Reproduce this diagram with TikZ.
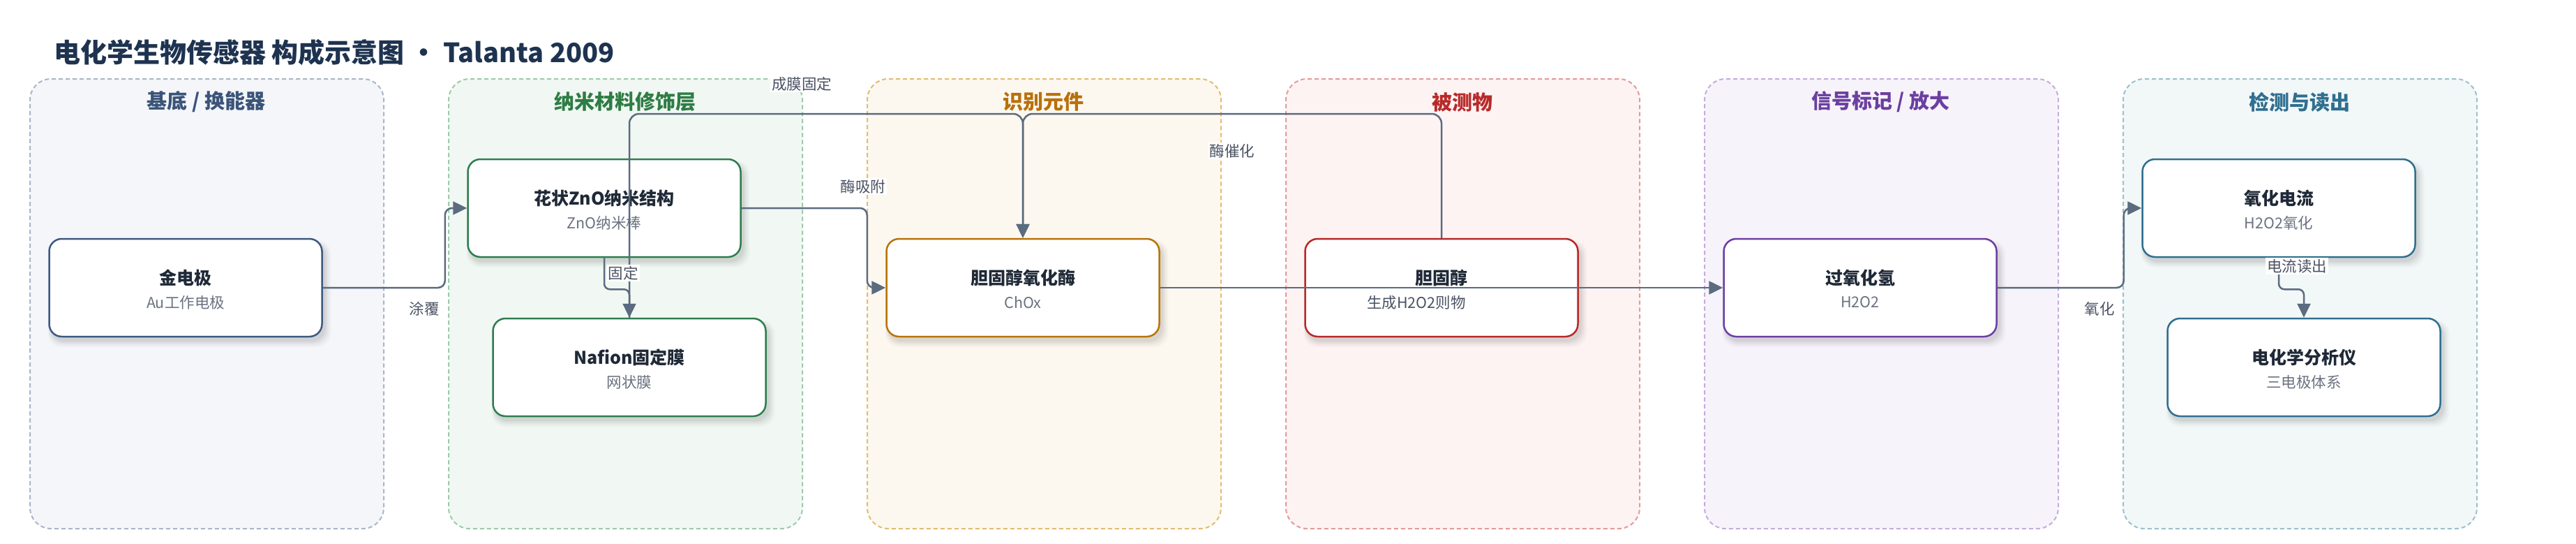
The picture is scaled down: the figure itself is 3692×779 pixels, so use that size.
\documentclass[tikz,border=0pt]{standalone}
\usepackage{fontspec}
\setmainfont{Noto Sans CJK SC}
\usetikzlibrary{arrows.meta}
\definecolor{titlec}{HTML}{1E3350}
\definecolor{linec}{HTML}{5B6B80}
\definecolor{labelc}{HTML}{4A5263}
\definecolor{ttlc}{HTML}{1F2937}
\definecolor{subc}{HTML}{6B7280}
% lane colours
\definecolor{fA}{HTML}{F4F6FA}\definecolor{dA}{HTML}{A9B6C9}\definecolor{tA}{HTML}{3B5478}\definecolor{bA}{HTML}{3D5A80}
\definecolor{fB}{HTML}{F1F8F3}\definecolor{dB}{HTML}{9DCAA9}\definecolor{tB}{HTML}{2E7D45}\definecolor{bB}{HTML}{2E7D4F}
\definecolor{fC}{HTML}{FDF8EF}\definecolor{dC}{HTML}{E3BB72}\definecolor{tC}{HTML}{B8700C}\definecolor{bC}{HTML}{B8730A}
\definecolor{fD}{HTML}{FDF3F3}\definecolor{dD}{HTML}{E49A9A}\definecolor{tD}{HTML}{B82A2A}\definecolor{bD}{HTML}{B82828}
\definecolor{fE}{HTML}{F7F3FB}\definecolor{dE}{HTML}{C6ACDC}\definecolor{tE}{HTML}{6B3FA0}\definecolor{bE}{HTML}{6B3FA0}
\definecolor{fF}{HTML}{F2F7F8}\definecolor{dF}{HTML}{9CC0CC}\definecolor{tF}{HTML}{2F6F8F}\definecolor{bF}{HTML}{2F6F8F}
\tikzset{
  lanebox/.style 2 args={draw=#2, fill=#1, line width=2pt, dash pattern=on 6pt off 4pt,
    rounded corners=30pt, minimum width=507pt, minimum height=644pt, anchor=north west, inner sep=0pt},
  lanetitle/.style={font=\fontsize{29}{32}\selectfont\bfseries, text=#1, inner sep=0pt},
  box/.style={draw=#1, fill=white, line width=2.5pt, rounded corners=18pt,
    minimum width=391pt, minimum height=140pt, inner sep=0pt},
  ttl/.style={font=\fontsize{25}{28}\selectfont\bfseries, text=ttlc, inner sep=0pt},
  sub/.style={font=\fontsize{21.5}{24}\selectfont, text=subc, inner sep=0pt},
  conn/.style={draw=linec, line width=2.5pt, -{Triangle[length=20pt,width=19pt]}},
  lbl/.style={font=\fontsize{21.5}{24}\selectfont, text=labelc, fill=white, inner sep=2pt},
}
\newcommand\mylane[6]{%
  \node[lanebox={#3}{#4}] (#1) at (#2,112) {};
  \node[lanetitle=#5] (#1-t) at (#2+253.5,146) {#6};
}
\newcommand\myshadow[2]{%
  \foreach \e/\o in {10/0.018,8/0.022,6/0.028,4/0.034,2/0.04}{
    \fill[black, opacity=\o, rounded corners=20pt] (#1-195.5+3-\e*0.5, #2-70+7-\e*0.5) rectangle (#1+195.5+3+\e, #2+70+5+\e);
  }%
}
\newcommand\mybox[6]{%
  \myshadow{#2}{#3}
  \node[box=#4] (#1) at (#2,#3) {};
  \node[ttl] (#1-t) at (#2,#3-14) {#5};
  \node[sub] (#1-s) at (#2,#3+21) {#6};
}
\begin{document}
\begin{tikzpicture}[x=1pt,y=-1pt]
\fill[white] (0,0) rectangle (3692,779);
\useasboundingbox (0,0) rectangle (3692,779);

\node[anchor=west, font=\fontsize{38}{42}\selectfont\bfseries, text=titlec, inner sep=0pt] (title) at (77,75)
  {电化学生物传感器 构成示意图 · Talanta 2009};

% lanes
\mylane{l1}{42}{fA}{dA}{tA}{基底 / 换能器}
\mylane{l2}{642}{fB}{dB}{tB}{纳米材料修饰层}
\mylane{l3}{1242}{fC}{dC}{tC}{识别元件}
\mylane{l4}{1842}{fD}{dD}{tD}{被测物}
\mylane{l5}{2442}{fE}{dE}{tE}{信号标记 / 放大}
\mylane{l6}{3042}{fF}{dF}{tF}{检测与读出}

% nodes
\mybox{gold}{266}{412}{bA}{金电极}{Au工作电极}
\mybox{zno}{866}{298}{bB}{花状ZnO纳米结构}{ZnO纳米棒}
\mybox{nafion}{902}{526}{bB}{Nafion固定膜}{网状膜}
\mybox{chox}{1466}{412}{bC}{胆固醇氧化酶}{ChOx}
\myshadow{2066}{412}
\node[box=bD] (chol) at (2066,412) {};
\node[ttl] (chol-t) at (2066,398) {胆固醇};
\mybox{hoo}{2666}{412}{bE}{过氧化氢}{H2O2}
\mybox{ox}{3266}{298}{bF}{氧化电流}{H2O2氧化}
\mybox{ana}{3302}{526}{bF}{电化学分析仪}{三电极体系}

\coordinate (topy) at (0,163);

% connectors
\draw[conn, rounded corners=10pt] (gold.east) -- ++(175,0) |- (zno.west);
\draw[conn, rounded corners=8pt] (zno.south) -- ++(0,45) -| (nafion.north);
\draw[conn, rounded corners=14pt] (nafion.north) -- (nafion.north |- topy) -| (chox.north);
\draw[conn, rounded corners=14pt] (chol.north) -- (chol.north |- topy) -| (chox.north);
\draw[conn, rounded corners=10pt] (zno.east) -- ++(180,0) |- (chox.west);
\draw[conn] (chox.east) -- (hoo.west);
\draw[conn, rounded corners=10pt] (hoo.east) -- ++(181,0) |- (ox.west);
\draw[conn, rounded corners=8pt] (ox.south) -- ++(0,45) -| (ana.north);

% labels
\node[lbl] (e1) at (608,442) {涂覆};
\node[lbl] (e2) at (893,391) {固定};
\node[lbl] (e3) at (1149,120) {成膜固定};
\node[lbl] (e4) at (1766,216) {酶催化};
\node[lbl] (e5) at (1237,267) {酶吸附};
\node[lbl, fill=none] (e6) at (2030,433) {生成H2O2则物};
\node[lbl] (e7) at (3009,442) {氧化};
\node[lbl] (e8) at (3292,381) {电流读出};
\end{tikzpicture}
\end{document}
